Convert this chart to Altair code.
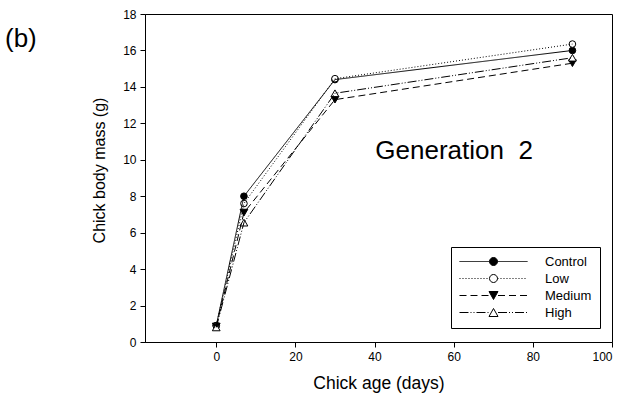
import altair as alt
import pandas as pd

# ---- data ----
days = [0, 7, 30, 90]
groups = ["Control", "Low", "Medium", "High"]
control = [0.9, 8.0, 14.4, 16.0]
low = [0.9, 7.6, 14.45, 16.35]
medium = [0.85, 7.1, 13.3, 15.3]
high = [0.8, 6.55, 13.65, 15.6]
x_ticks = [0, 20, 40, 60, 80, 100]
y_ticks = [0, 2, 4, 6, 8, 10, 12, 14, 16, 18]

# ---- styles ----
marker_shapes = ["circle", "circle", "triangle-down", "triangle-up"]
marker_fills = ["black", "white", "black", "white"]
marker_sizes = [44, 44, 60, 60]
dashes = [[1, 0], [1, 2], [7, 4], [9, 2, 1, 2, 1, 2]]

FONT = "Liberation Sans"

series = dict(zip(groups, [control, low, medium, high]))
rows = []
for g, mk, fc, sz in zip(groups, marker_shapes, marker_fills, marker_sizes):
    for d, v in zip(days, series[g]):
        rows.append({"group": g, "day": d, "mass": v, "mk": mk, "fc": fc, "sz": sz})
df = pd.DataFrame(rows)

# ---- legend symbols: line + marker drawn as custom paths ----
SYM_SIZE = 144
UNIT = (SYM_SIZE ** 0.5) / 2.0  # px per path unit
HALF = 34.0


def seg(x0, x1, pattern):
    out = []
    pos, i, on = x0, 0, True
    while pos < x1 - 1e-9:
        end = min(pos + pattern[i % len(pattern)], x1)
        if on:
            out.append(f"M{pos / UNIT:.3f},0H{end / UNIT:.3f}")
        pos, on, i = end, not on, i + 1
    return "".join(out)


def circle(r):
    r = r / UNIT
    return f"M{r:.3f},0A{r:.3f},{r:.3f} 0 1 1 {-r:.3f},0A{r:.3f},{r:.3f} 0 1 1 {r:.3f},0Z"


def tri(up):
    w, h1, h2 = 4.5 / UNIT, 4.0 / UNIT, 4.0 / UNIT
    if up:
        return f"M{-w:.3f},{h1:.3f}L{w:.3f},{h1:.3f}L0,{-h2:.3f}Z"
    return f"M{-w:.3f},{-h1:.3f}L{w:.3f},{-h1:.3f}L0,{h2:.3f}Z"


legend_paths = []
for mk, dash in zip(marker_shapes, dashes):
    gap = 4.0 if mk == "circle" else 4.5
    p = seg(-HALF, -gap, dash) + seg(gap, HALF, dash)
    if mk == "circle":
        p += circle(4.0)
    else:
        p += tri(mk == "triangle-up")
    legend_paths.append(p)

xs = alt.Scale(domain=[-18, 100], nice=False, zero=False)
ys = alt.Scale(domain=[0, 18], nice=False)

x_enc = alt.X(
    "day:Q", scale=xs,
    axis=alt.Axis(values=x_ticks, title="Chick age (days)", titlePadding=12,
                  titleFontSize=17.5, grid=False),
)
y_enc = alt.Y(
    "mass:Q", scale=ys,
    axis=alt.Axis(values=y_ticks, title="Chick body mass (g)", titlePadding=15,
                  titleFontSize=16, titleY=156, grid=False),
)

lines = alt.Chart(df).mark_line(color="black", strokeWidth=1).encode(
    x=x_enc, y=y_enc, detail="group:N",
    strokeDash=alt.StrokeDash("group:N", scale=alt.Scale(domain=groups, range=dashes), legend=None),
)

points = alt.Chart(df).mark_point(filled=True, stroke="black", strokeWidth=1, opacity=1).encode(
    x=x_enc, y=y_enc,
    shape=alt.Shape("mk:N", scale=None, legend=None),
    fill=alt.Fill("fc:N", scale=None, legend=None),
    size=alt.Size("sz:Q", scale=None, legend=None),
)

leg = alt.Legend(
    title=None, orient="none", legendX=306, legendY=233,
    strokeColor="black", fillColor="white", padding=8,
    symbolSize=SYM_SIZE, symbolStrokeColor="black", symbolStrokeWidth=1,
    symbolOpacity=1, labelFont=FONT, labelFontSize=13, labelColor="black",
    rowPadding=3, symbolOffset=28, labelOffset=45,
)

legend_layer = alt.Chart(df).mark_point(filled=True, opacity=0).encode(
    x=x_enc, y=y_enc,
    shape=alt.Shape("group:N", scale=alt.Scale(domain=groups, range=legend_paths), legend=leg),
    fill=alt.Fill("group:N", scale=alt.Scale(domain=groups, range=marker_fills), legend=leg),
    stroke=alt.Stroke("group:N", scale=alt.Scale(domain=groups, range=["black"] * 4), legend=leg),
)

ann = pd.DataFrame({"day": [60.1], "mass": [10.04], "txt": ["Generation\u00a0 2"]})
gen_text = alt.Chart(ann).mark_text(
    font=FONT, fontSize=26, align="center", baseline="alphabetic", color="black"
).encode(x=x_enc, y=y_enc, text="txt:N")

lab = pd.DataFrame({"txt": ["(b)"]})
panel = alt.Chart(lab).mark_text(
    font=FONT, fontSize=26, align="left", baseline="alphabetic", color="black"
).encode(x=alt.value(-140), y=alt.value(33), text="txt:N")

chart = alt.layer(points, lines, legend_layer, gen_text, panel).resolve_scale(
    shape="independent", fill="independent", size="independent", stroke="independent"
).resolve_legend(
    shape="independent", fill="independent", stroke="independent"
).properties(
    width=467, height=328,
    autosize=alt.AutoSizeParams(type="none"),
    padding={"left": 145, "top": 14, "right": 14, "bottom": 60},
    background="white",
).configure_view(stroke="black", strokeWidth=1).configure_axis(
    grid=False, domainColor="black", tickColor="black", tickSize=5,
    labelFont=FONT, labelFontSize=12, labelColor="black", labelPadding=4,
    titleFont=FONT, titleFontSize=17, titleFontWeight="normal", titleColor="black",
)

chart.save("out.html", embed_options={"renderer": "svg", "actions": False})
